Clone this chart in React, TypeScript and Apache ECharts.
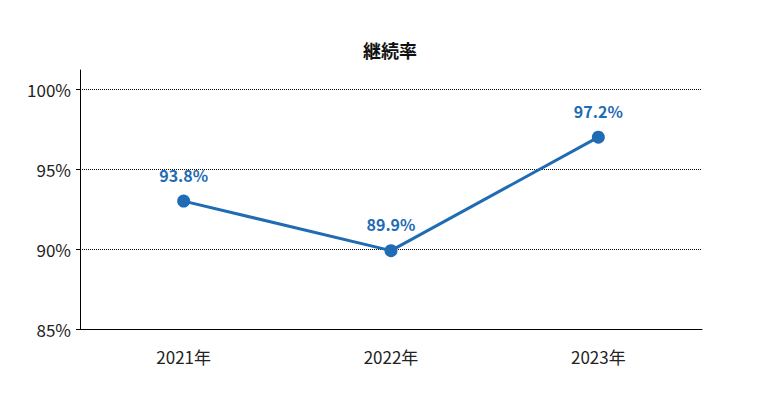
import React, { useEffect, useRef } from "react";
import * as echarts from "echarts";

const categories = ["2021年", "2022年", "2023年"];
const values = [93.0, 89.9, 97.0];
const pointLabels = ["93.8%", "89.9%", "97.2%"];
const yTicks = [85, 90, 95, 100];

const FONT = '"Noto Sans CJK JP", "Noto Sans", sans-serif';
const BLUE = "#1f6bb4";

export default function App() {
  const ref = useRef<HTMLDivElement>(null);
  useEffect(() => {
    if (!ref.current) return;
    const chart = echarts.init(ref.current, null, { renderer: "svg" });
    chart.setOption({
      animation: false,
      title: {
        text: "継続率",
        left: "center",
        top: 28,
        textStyle: { fontFamily: FONT, fontSize: 18, fontWeight: "bold", color: "#111" },
      },
      grid: { left: 72, right: 70, top: 62, bottom: 73 },
      xAxis: {
        type: "category",
        data: categories,
        boundaryGap: true,
        axisLine: { lineStyle: { color: "#000", width: 1 } },
        axisTick: { show: false },
        axisLabel: { fontFamily: FONT, fontSize: 17, color: "#222", margin: 19 },
      },
      yAxis: {
        type: "value",
        min: 85,
        max: 101.2,
        interval: 5,
        axisLine: { show: true, lineStyle: { color: "#000", width: 1 } },
        axisTick: { show: true, length: 4, customValues: yTicks, lineStyle: { color: "#000" } },
        axisLabel: {
          fontFamily: FONT,
          fontSize: 17,
          color: "#222",
          margin: 9,
          customValues: yTicks,
          formatter: (v: number) => `${v}%`,
        },
        splitLine: {
          show: true,
          lineStyle: { color: "#000", type: "dotted", width: 1 },
        },
      },
      series: [
        {
          type: "line",
          data: values,
          symbol: "circle",
          symbolSize: 13,
          itemStyle: { color: BLUE },
          lineStyle: { color: BLUE, width: 3 },
          label: {
            show: true,
            position: "top",
            distance: 12,
            fontFamily: FONT,
            fontSize: 16,
            fontWeight: "bold",
            color: BLUE,
            formatter: (p: any) => pointLabels[p.dataIndex],
          },
        },
      ],
    });
    return () => chart.dispose();
  }, []);
  return <div ref={ref} style={{ width: 764, height: 394 }} />;
}
